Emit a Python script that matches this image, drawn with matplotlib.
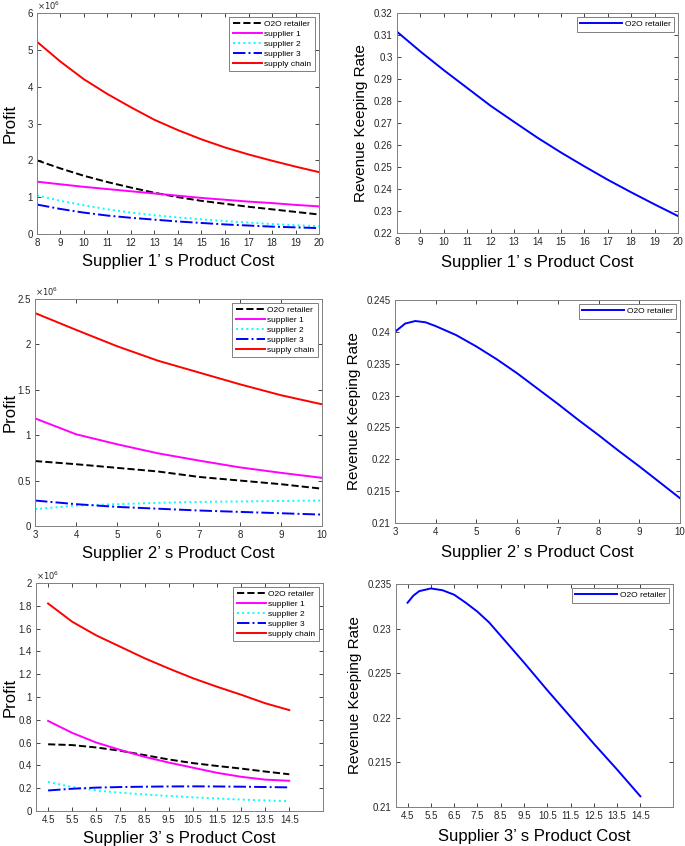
import matplotlib.pyplot as plt
from matplotlib.ticker import FuncFormatter

plt.rcParams['font.family'] = ['Liberation Sans', 'DejaVu Sans']

# panel 1: supplier 1's product cost
c1 = [8, 9, 10, 11, 12, 13, 14, 15, 16, 17, 18, 19, 20]
p1_o2o = [2.0, 1.78, 1.58, 1.41, 1.26, 1.12, 1.0, 0.9, 0.82, 0.74, 0.67, 0.6, 0.53]
p1_s1 = [1.42, 1.35, 1.28, 1.22, 1.16, 1.1, 1.04, 0.98, 0.93, 0.88, 0.84, 0.79, 0.75]
p1_s2 = [1.05, 0.9, 0.78, 0.67, 0.58, 0.51, 0.45, 0.4, 0.35, 0.31, 0.27, 0.24, 0.21]
p1_s3 = [0.8, 0.68, 0.58, 0.5, 0.44, 0.39, 0.34, 0.3, 0.26, 0.23, 0.2, 0.18, 0.16]
p1_sc = [5.22, 4.68, 4.2, 3.8, 3.44, 3.1, 2.82, 2.57, 2.35, 2.16, 1.99, 1.83, 1.68]
r1 = [0.3115, 0.3025, 0.2940, 0.2859, 0.2778, 0.2705, 0.2633, 0.2566, 0.2503,
      0.2442, 0.2385, 0.2330, 0.2277]

# panel 2: supplier 2's product cost
c2 = [3, 4, 5, 6, 7, 8, 9, 10]
p2_o2o = [0.715, 0.68, 0.64, 0.6, 0.54, 0.5, 0.46, 0.41]
p2_s1 = [1.185, 1.01, 0.9, 0.8, 0.72, 0.645, 0.585, 0.53]
p2_s2 = [0.185, 0.225, 0.24, 0.255, 0.265, 0.27, 0.275, 0.28]
p2_s3 = [0.28, 0.24, 0.21, 0.19, 0.17, 0.155, 0.14, 0.125]
p2_sc = [2.345, 2.16, 1.98, 1.82, 1.69, 1.56, 1.44, 1.34]
c2r = [3, 3.25, 3.5, 3.75, 4, 4.5, 5, 5.5, 6, 6.5, 7, 7.5, 8, 8.5, 9, 9.5, 10]
r2 = [0.2400, 0.2413, 0.2417, 0.2415, 0.2409, 0.2395, 0.2377, 0.2357, 0.2335,
      0.2311, 0.2287, 0.2262, 0.2238, 0.2213, 0.2189, 0.2164, 0.2139]

# panel 3: supplier 3's product cost
c3 = [4.5, 5.5, 6.5, 7.5, 8.5, 9.5, 10.5, 11.5, 12.5, 13.5, 14.5]
p3_o2o = [0.585, 0.578, 0.557, 0.528, 0.49, 0.452, 0.42, 0.395, 0.372, 0.346, 0.322]
p3_s1 = [0.79, 0.685, 0.6, 0.535, 0.475, 0.425, 0.38, 0.335, 0.3, 0.275, 0.265]
p3_s2 = [0.255, 0.21, 0.18, 0.16, 0.145, 0.132, 0.12, 0.11, 0.1, 0.093, 0.085]
p3_s3 = [0.18, 0.195, 0.205, 0.21, 0.213, 0.215, 0.216, 0.215, 0.213, 0.21, 0.207]
p3_sc = [1.82, 1.66, 1.54, 1.44, 1.34, 1.25, 1.165, 1.09, 1.02, 0.945, 0.885]
c3r = [4.5, 4.75, 5.0, 5.5, 6.0, 6.5, 7.0, 7.5, 8.0, 8.5, 9.0, 9.5,
       10.5, 11.5, 12.5, 13.5, 14.5]
r3 = [0.2329, 0.2337, 0.2342, 0.2345, 0.2343, 0.2338, 0.2329, 0.2319, 0.2307,
      0.2292, 0.2277, 0.2262, 0.2231, 0.2201, 0.2171, 0.2142, 0.2112]

names = ['O2O retailer', 'supplier 1', 'supplier 2', 'supplier 3', 'supply chain']
styles = [('k', '--'), ('magenta', '-'), ('cyan', ':'), ('blue', '-.'), ('red', '-')]

fig = plt.figure(figsize=(6.85, 8.46), dpi=100)

def style_axes(ax):
    ax.tick_params(direction='in', top=True, right=True, labelsize=7,
                   colors='#262626', length=3, width=0.6, pad=3)
    for s in ax.spines.values():
        s.set_color('#808080')
        s.set_linewidth(0.7)

def profit_panel(rect, x, series, xlim, ylim, yticks, xticks, xlabel):
    ax = fig.add_axes(rect)
    for y, (col, ls), nm in zip(series, styles, names):
        ax.plot(x, [v * 1e6 for v in y], color=col, linestyle=ls, lw=1.4, label=nm)
    ax.set_xlim(*xlim)
    ax.set_ylim(ylim[0] * 1e6, ylim[1] * 1e6)
    ax.set_yticks([t * 1e6 for t in yticks])
    ax.set_xticks(xticks)
    ax.yaxis.set_major_formatter(FuncFormatter(lambda v, p: '%g' % round(v / 1e6, 3)))
    ax.xaxis.set_major_formatter(FuncFormatter(lambda v, p: '%g' % v))
    style_axes(ax)
    ax.text(0.0, 1.003, r'$\times10^{6}$', transform=ax.transAxes, fontsize=6,
            color='#262626', va='bottom', ha='left')
    ax.set_ylabel('Profit', fontsize=12)
    px_left = rect[0] * 685
    ax.yaxis.set_label_coords(-(px_left - 18) / (rect[2] * 685), 0.5)
    ax.set_xlabel(xlabel, fontsize=12, labelpad=4)
    leg = ax.legend(loc='upper right', fontsize=6, handlelength=3.5,
                    borderpad=0.4, labelspacing=0.25, fancybox=False,
                    framealpha=1, edgecolor='#808080', handletextpad=0.3)
    leg.get_frame().set_linewidth(0.7)
    return ax

def rate_panel(rect, x, y, xlim, ylim, yticks, xticks, xlabel):
    ax = fig.add_axes(rect)
    ax.plot(x, y, color='blue', lw=1.4, label='O2O retailer')
    ax.set_xlim(*xlim)
    ax.set_ylim(*ylim)
    ax.set_yticks(yticks)
    ax.set_xticks(xticks)
    ax.yaxis.set_major_formatter(FuncFormatter(lambda v, p: '%g' % round(v, 4)))
    ax.xaxis.set_major_formatter(FuncFormatter(lambda v, p: '%g' % v))
    style_axes(ax)
    ax.set_ylabel('Revenue Keeping Rate', fontsize=11, labelpad=4)
    ax.set_xlabel(xlabel, fontsize=12, labelpad=6)
    leg = ax.legend(loc='upper right', fontsize=6, handlelength=5,
                    borderpad=0.4, fancybox=False, framealpha=1,
                    edgecolor='#808080', handletextpad=0.3)
    leg.get_frame().set_linewidth(0.7)
    return ax

profit_panel([0.054, 0.7234, 0.4117, 0.2612], c1,
             [p1_o2o, p1_s1, p1_s2, p1_s3, p1_sc], (8, 20), (0, 6),
             [0, 1, 2, 3, 4, 5, 6], range(8, 21), 'Supplier 1’ s Product Cost')
rate_panel([0.5796, 0.7246, 0.4102, 0.26], c1, r1, (8, 20), (0.22, 0.32),
           [0.22 + 0.01 * i for i in range(11)], range(8, 21),
           'Supplier 1’ s Product Cost')

profit_panel([0.0511, 0.3783, 0.419, 0.2683], c2,
             [p2_o2o, p2_s1, p2_s2, p2_s3, p2_sc], (3, 10), (0, 2.5),
             [0, 0.5, 1, 1.5, 2, 2.5], range(3, 11), 'Supplier 2’ s Product Cost')
rate_panel([0.5766, 0.3818, 0.416, 0.2636], c2r, r2, (3, 10), (0.21, 0.245),
           [0.21 + 0.005 * i for i in range(8)], range(3, 11),
           'Supplier 2’ s Product Cost')

profit_panel([0.0526, 0.0414, 0.419, 0.2695], c3,
             [p3_o2o, p3_s1, p3_s2, p3_s3, p3_sc], (4, 15.9), (0, 2),
             [0.2 * i for i in range(11)], c3, 'Supplier 3’ s Product Cost')
rate_panel([0.578, 0.0461, 0.4044, 0.2636], c3r, r3, (4, 15.9), (0.21, 0.235),
           [0.21 + 0.005 * i for i in range(6)], c3,
           'Supplier 3’ s Product Cost')

fig.savefig('out.png', dpi=100)
